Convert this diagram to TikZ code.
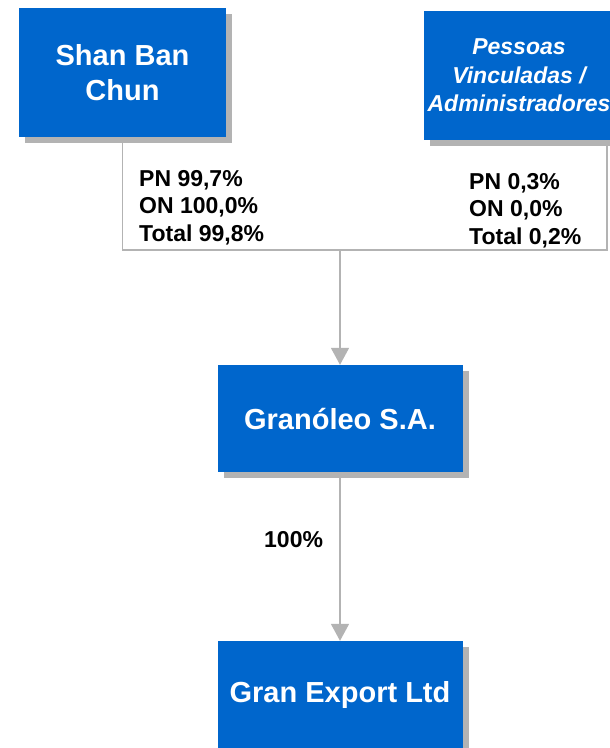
\documentclass[tikz,border=0pt]{standalone}
\usepackage{fontspec}
\setmainfont{Liberation Sans}
\usetikzlibrary{arrows.meta,shadows}
\definecolor{boxblue}{HTML}{0066CC}
\definecolor{shadowgray}{HTML}{B3B3B3}
\definecolor{linegray}{HTML}{B3B3B3}
\begin{document}
\begin{tikzpicture}[x=1pt,y=-1pt,
  entity/.style={fill=boxblue, draw=none, text=white, align=center, inner sep=0pt,
    font=\fontsize{29}{35}\selectfont\bfseries,
    drop shadow={shadow xshift=6pt, shadow yshift=-6pt, fill=shadowgray, opacity=1}},
  share/.style={inner sep=0pt, align=left, font=\fontsize{23}{27.7}\selectfont\bfseries},
  conn/.style={draw=linegray, line width=1.5pt},
  arr/.style={draw=linegray, line width=1.8pt, -{Triangle[width=18pt,length=17pt]}}]
\useasboundingbox (0,0) rectangle (610,748);
\coordinate (pr) at (607,250);
\node[entity, minimum width=207pt, minimum height=129pt] (s) at (122.5,72.5) {Shan Ban\\Chun};
\node[entity, minimum width=190pt, minimum height=129pt,
  font=\fontsize{23}{28.5}\selectfont\bfseries\itshape] (p) at (519,75.5)
  {Pessoas\\Vinculadas /\\Administradores};
\node[entity, minimum width=245pt, minimum height=107pt] (g) at (340,418.5) {Granóleo S.A.};
\node[entity, minimum width=245pt, minimum height=107pt] (e) at (340,694.5) {Gran Export Ltd};
\coordinate (j) at (g.north |- pr);
\draw[conn] ([yshift=-6pt]s.south) |- (pr) -- ([yshift=-6pt]p.south -| pr);
\draw[arr] (j) -- (g.north);
\draw[arr] ([yshift=-6pt]g.south) -- (e.north);
\node[share, anchor=north west] (ls) at (139,170) {PN 99,7\%\\ON 100,0\%\\Total 99,8\%};
\node[share, anchor=north west] (rs) at (469,173) {PN 0,3\%\\ON 0,0\%\\Total 0,2\%};
\node[share, anchor=base west] (gl) at (264,547) {100\%};
\end{tikzpicture}
\end{document}
